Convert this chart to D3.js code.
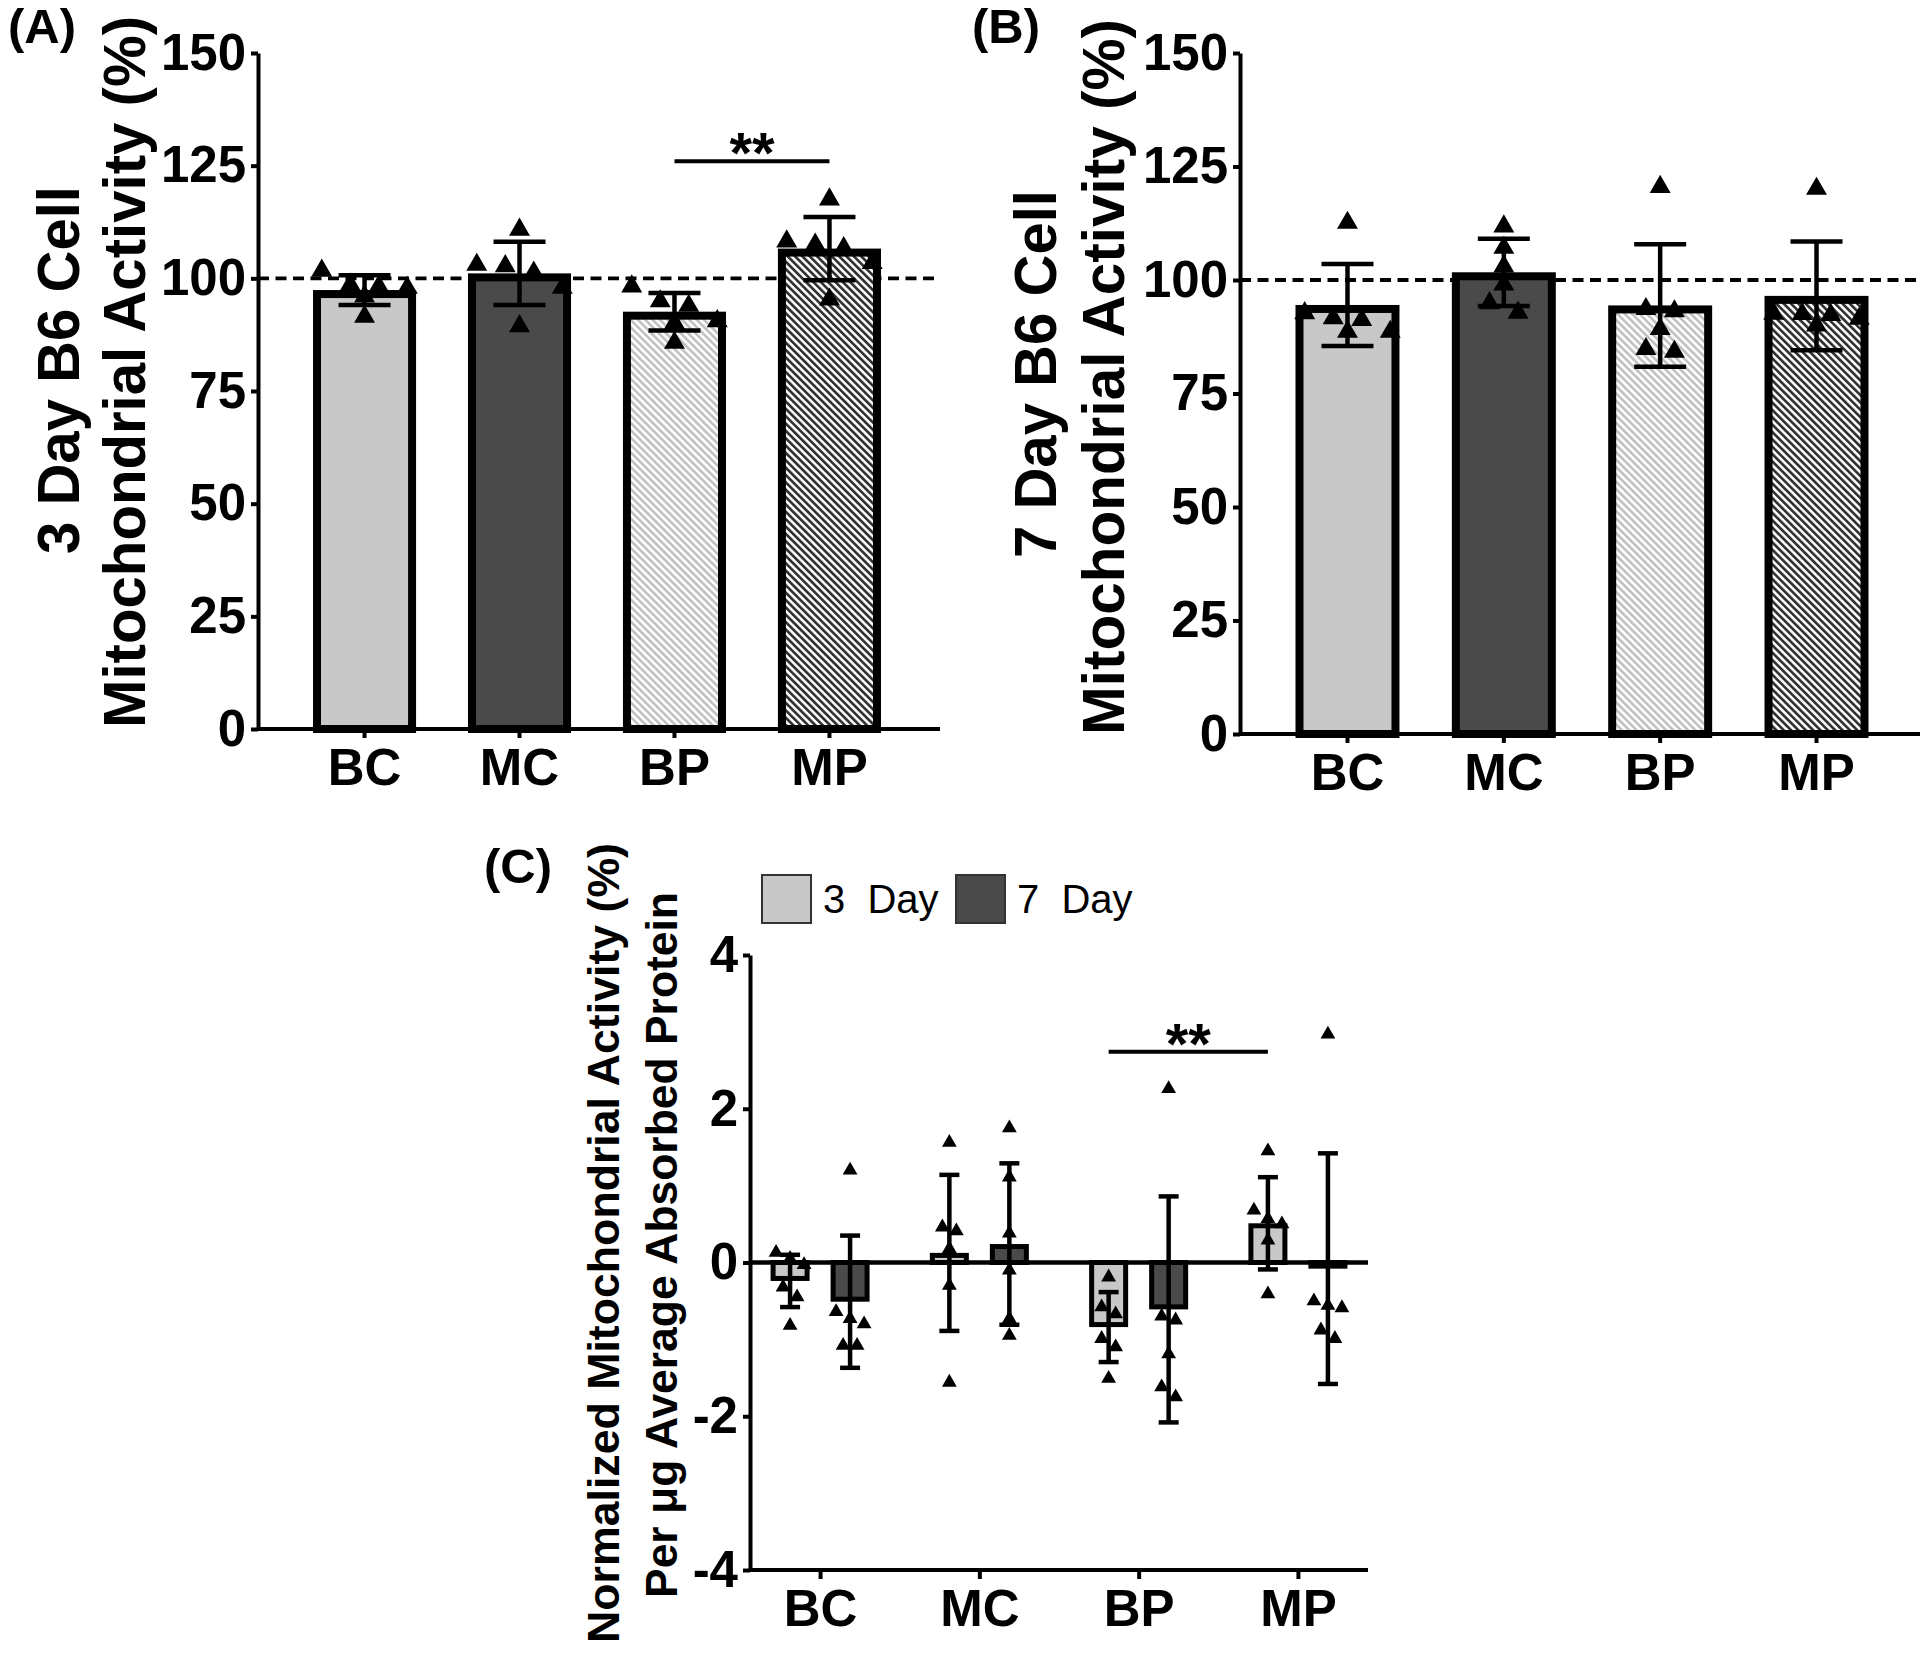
<!DOCTYPE html>
<html><head><meta charset="utf-8">
<script src="https://cdn.jsdelivr.net/npm/d3@7"></script>
<style>
body{margin:0;background:#fff}
svg{display:block;background:#fff}
text{font-family:"Liberation Sans",Arial,Helvetica,sans-serif}
</style>
</head><body>
<svg id="chart" width="1920" height="1654"></svg>
<script>
// ---------------- DATA ----------------
const categories = ["BC", "MC", "BP", "MP"];
const yTicksAB = [0, 25, 50, 75, 100, 125, 150];
const refLine = 100;

// Panel A : 3 day
const meanA = [97.4, 101.1, 92.6, 106.6];
const sdA   = [3.3, 7.0, 4.15, 7.0];
const ptsA = [
  [101.7, 98.6, 97.9, 98.2, 91.5, 96.0],
  [110.8, 103.0, 102.7, 101.3, 97.9, 89.4],
  [98.2, 93.9, 94.9, 90.1, 90.5, 85.7],
  [117.5, 107.5, 108.2, 106.7, 103.4, 95.3]
];
const sigA = {from: "BP", to: "MP", level: 126, label: "**"};

// Panel B : 7 day
const meanB = [94.5, 101.7, 94.4, 96.5];
const sdB   = [9.05, 7.4, 13.5, 12.0];
const ptsB = [
  [112.6, 91.6, 88.6, 92.7, 88.6, 91.2],
  [111.8, 107.1, 103.0, 99.0, 94.9, 92.8],
  [120.5, 93.6, 93.1, 89.2, 84.2, 84.8],
  [120.1, 92.3, 92.5, 91.5, 90.0, 92.6]
];

// Panel C : normalized
const days = ["3  Day", "7  Day"];
const yTicksC = [-4, -2, 0, 2, 4];
const mean3 = [-0.24, 0.125, -0.84, 0.51];
const sd3   = [0.34, 1.015, 0.455, 0.60];
const pts3 = [
  [0.13, 0.05, -0.03, -0.32, -0.45, -0.82],
  [1.56, 0.46, 0.41, 0.18, -0.30, -1.56],
  [-0.19, -0.58, -0.67, -0.99, -1.10, -1.51],
  [1.45, 0.68, 0.57, 0.50, 0.29, -0.41]
];
const mean7 = [-0.51, 0.24, -0.61, -0.08];
const sd7   = [0.86, 1.05, 1.47, 1.50];
const pts7 = [
  [1.20, -0.64, -0.73, -0.80, -1.08, -1.08],
  [1.75, 1.11, 0.38, -0.10, -0.73, -0.95],
  [2.26, -0.70, -0.75, -1.19, -1.62, -1.75],
  [2.97, -0.50, -0.56, -0.59, -0.88, -0.99]
];
const sigC = {from: ["BP", "3  Day"], to: ["MP", "3  Day"], level: 2.74, label: "**"};

// ---------------- STYLE ----------------
const LIGHT = "#c8c8c8", DARK = "#4a4a4a";

const svg = d3.select("#chart");
const defs = svg.append("defs");
function stripe(id, color) {
  const p = defs.append("pattern").attr("id", id)
    .attr("patternUnits", "userSpaceOnUse").attr("width", 5.2).attr("height", 5.2)
    .attr("patternTransform", "rotate(-45)");
  p.append("rect").attr("width", 5.2).attr("height", 5.2).attr("fill", "#fff");
  p.append("rect").attr("width", 2.7).attr("height", 5.2).attr("fill", color);
}
stripe("hatchLight", "#c2c2c2");
stripe("hatchDark", "#333333");
const fillsAB = [LIGHT, DARK, "url(#hatchLight)", "url(#hatchDark)"];

// deterministic swarm (Prism-like rows)
function swarm(vals, yScale, thresh, step, maxRow) {
  const items = vals.map((v, i) => ({v, i, py: yScale(v)})).sort((a, b) => a.py - b.py);
  const clusters = [];
  let cur = null;
  items.forEach(it => {
    if (cur && it.py - cur[cur.length - 1].py < thresh && cur.length < maxRow) cur.push(it);
    else { cur = [it]; clusters.push(cur); }
  });
  clusters.forEach(c => c.forEach((it, k) => it.dx = (k - (c.length - 1) / 2) * step));
  return items;
}

function rotLabel(lines, fontSize) {
  lines.forEach(l => {
    svg.append("text")
      .attr("transform", `translate(${l.bx},${l.cy}) rotate(-90)`)
      .attr("text-anchor", "middle")
      .attr("font-weight", "bold").attr("font-size", fontSize)
      .attr("textLength", l.len).attr("lengthAdjust", "spacingAndGlyphs")
      .text(l.text);
  });
}

// ---------------- PANELS A & B ----------------
function barPanel(cfg) {
  const g = svg.append("g");
  const x = d3.scaleBand().domain(categories).range([cfg.x0, cfg.x1])
    .paddingInner(0.335).paddingOuter(0.355);
  const y = d3.scaleLinear().domain([0, 150]).range([cfg.yBottom, cfg.yTop]);
  const bw = x.bandwidth();
  const sw = 8;

  g.append("line").attr("x1", cfg.x0).attr("x2", cfg.dashEnd)
    .attr("y1", y(refLine)).attr("y2", y(refLine))
    .attr("stroke", "#000").attr("stroke-width", 3.8).attr("stroke-dasharray", "11,6.5");

  g.selectAll("rect.bar").data(categories).join("rect").attr("class", "bar")
    .attr("x", c => x(c) + sw / 2).attr("width", bw - sw)
    .attr("y", (c, i) => y(cfg.mean[i]) + sw / 2)
    .attr("height", (c, i) => y(0) - y(cfg.mean[i]) - sw / 2)
    .attr("fill", (c, i) => fillsAB[i]).attr("stroke", "#000").attr("stroke-width", sw);

  const tri = d3.symbol().type(d3.symbolTriangle).size(190);
  categories.forEach((c, i) => {
    const sp = swarm(cfg.pts[i], y, 17, 28.5, 4);
    g.selectAll(null).data(sp).join("path")
      .attr("d", tri)
      .attr("transform", d => `translate(${x(c) + bw / 2 + d.dx},${d.py})`)
      .attr("fill", "#000");
  });

  categories.forEach((c, i) => {
    const cx = x(c) + bw / 2, m = cfg.mean[i], s = cfg.sd[i];
    g.append("line").attr("x1", cx).attr("x2", cx).attr("y1", y(m + s)).attr("y2", y(m - s))
      .attr("stroke", "#000").attr("stroke-width", 4.5);
    [m + s, m - s].forEach(v => g.append("line").attr("x1", cx - 26).attr("x2", cx + 26)
      .attr("y1", y(v)).attr("y2", y(v)).attr("stroke", "#000").attr("stroke-width", 4.5));
  });

  const ya = g.append("g").attr("transform", `translate(${cfg.x0},0)`)
    .call(d3.axisLeft(y).tickValues(yTicksAB).tickSize(7).tickSizeOuter(0).tickPadding(5).tickFormat(d => String(d)));
  const xa = g.append("g").attr("transform", `translate(0,${y(0)})`)
    .call(d3.axisBottom(x).tickSize(9).tickSizeOuter(0).tickPadding(11));
  [ya, xa].forEach(a => {
    a.select(".domain").attr("stroke-width", 4);
    a.selectAll(".tick line").attr("stroke-width", 4);
    a.selectAll("text").attr("font-size", 51).attr("font-weight", "bold").attr("fill", "#000");
  });
  xa.select(".domain").attr("d", `M${cfg.x0},0H${cfg.axisEnd}`);

  if (cfg.sig) {
    const x1 = x(cfg.sig.from) + bw / 2, x2 = x(cfg.sig.to) + bw / 2, yy = y(cfg.sig.level);
    g.append("line").attr("x1", x1).attr("x2", x2).attr("y1", yy).attr("y2", yy)
      .attr("stroke", "#000").attr("stroke-width", 4);
    g.append("text").attr("x", (x1 + x2) / 2).attr("y", yy + 12).attr("text-anchor", "middle")
      .attr("font-size", 58).attr("font-weight", "bold").text(cfg.sig.label);
  }

  svg.append("text").attr("x", cfg.letterX).attr("y", 43).attr("font-size", 49)
    .attr("font-weight", "bold").text(cfg.letter);
}

barPanel({x0: 258, x1: 936, axisEnd: 940, dashEnd: 940, yBottom: 729, yTop: 53,
  mean: meanA, sd: sdA, pts: ptsA, sig: sigA, letter: "(A)", letterX: 8});
barPanel({x0: 1240, x1: 1924, axisEnd: 1920, dashEnd: 1920, yBottom: 734, yTop: 53,
  mean: meanB, sd: sdB, pts: ptsB, sig: null, letter: "(B)", letterX: 972});

rotLabel([
  {text: "3 Day B6 Cell", bx: 79, cy: 370, len: 368},
  {text: "Mitochondrial Activity (%)", bx: 145, cy: 372, len: 712}
], 59);
rotLabel([
  {text: "7 Day B6 Cell", bx: 1056, cy: 374, len: 368},
  {text: "Mitochondrial Activity (%)", bx: 1124, cy: 377, len: 716}
], 59);

// ---------------- PANEL C ----------------
(function () {
  const g = svg.append("g");
  const X0 = 750, X1 = 1368;
  const x = d3.scalePoint().domain(categories).range([X0, X1]).padding(0.44);
  const xd = d3.scaleBand().domain(days).range([-49.5, 49.5]).paddingInner(0.35);
  const y = d3.scaleLinear().domain([-4, 4]).range([1570, 955]);
  const bw = xd.bandwidth();
  const sw = 5;
  const series = [
    {mean: mean3, sd: sd3, pts: pts3, fill: LIGHT, day: days[0]},
    {mean: mean7, sd: sd7, pts: pts7, fill: DARK, day: days[1]}
  ];

  series.forEach(s => {
    categories.forEach((c, i) => {
      const m = s.mean[i];
      const left = x(c) + xd(s.day);
      const yTop = m >= 0 ? y(m) + sw / 2 : y(0);
      const yBot = m >= 0 ? y(0) : y(m) - sw / 2;
      g.append("rect").attr("x", left + sw / 2).attr("width", bw - sw)
        .attr("y", yTop).attr("height", Math.max(0, yBot - yTop))
        .attr("fill", s.fill).attr("stroke", "#000").attr("stroke-width", sw);
    });
  });

  g.append("line").attr("x1", X0).attr("x2", X1).attr("y1", y(0)).attr("y2", y(0))
    .attr("stroke", "#000").attr("stroke-width", 4.5);

  const tri = d3.symbol().type(d3.symbolTriangle).size(95);
  series.forEach(s => {
    categories.forEach((c, i) => {
      const cx = x(c) + xd(s.day) + bw / 2;
      const sp = swarm(s.pts[i], y, 12, 14, 3);
      g.selectAll(null).data(sp).join("path").attr("d", tri)
        .attr("transform", d => `translate(${cx + d.dx},${d.py})`).attr("fill", "#000");
      const m = s.mean[i], e = s.sd[i];
      g.append("line").attr("x1", cx).attr("x2", cx).attr("y1", y(m + e)).attr("y2", y(m - e))
        .attr("stroke", "#000").attr("stroke-width", 4.5);
      [m + e, m - e].forEach(v => g.append("line").attr("x1", cx - 10).attr("x2", cx + 10)
        .attr("y1", y(v)).attr("y2", y(v)).attr("stroke", "#000").attr("stroke-width", 4.5));
    });
  });

  const ya = g.append("g").attr("transform", `translate(${X0},0)`)
    .call(d3.axisLeft(y).tickValues(yTicksC).tickSize(7).tickSizeOuter(0).tickPadding(5).tickFormat(d => String(d)));
  const xa = g.append("g").attr("transform", `translate(0,${y(-4)})`)
    .call(d3.axisBottom(x).tickSize(9).tickSizeOuter(0).tickPadding(11));
  [ya, xa].forEach(a => {
    a.select(".domain").attr("stroke-width", 4);
    a.selectAll(".tick line").attr("stroke-width", 4);
    a.selectAll("text").attr("font-size", 51).attr("font-weight", "bold").attr("fill", "#000");
  });
  xa.select(".domain").attr("d", `M${X0},0H${X1}`);

  const sx1 = x(sigC.from[0]) + xd(sigC.from[1]) + bw / 2;
  const sx2 = x(sigC.to[0]) + xd(sigC.to[1]) + bw / 2;
  const sy = y(sigC.level);
  g.append("line").attr("x1", sx1).attr("x2", sx2).attr("y1", sy).attr("y2", sy)
    .attr("stroke", "#000").attr("stroke-width", 4);
  g.append("text").attr("x", (sx1 + sx2) / 2).attr("y", sy + 12).attr("text-anchor", "middle")
    .attr("font-size", 58).attr("font-weight", "bold").text(sigC.label);

  const leg = g.append("g");
  const legX = [762, 956];
  series.forEach((s, k) => {
    leg.append("rect").attr("x", legX[k]).attr("y", 875).attr("width", 49).attr("height", 48)
      .attr("fill", s.fill).attr("stroke", "#333").attr("stroke-width", 2);
    leg.append("text").attr("x", legX[k] + 61).attr("y", 913).attr("font-size", 40)
      .attr("xml:space", "preserve").style("white-space", "pre").text(s.day);
  });

  svg.append("text").attr("x", 484).attr("y", 883).attr("font-size", 49)
    .attr("font-weight", "bold").text("(C)");
  rotLabel([
    {text: "Normalized Mitochondrial Activity (%)", bx: 619, cy: 1243, len: 800},
    {text: "Per \u03bcg Average Absorbed Protein", bx: 677, cy: 1245, len: 706}
  ], 45);
})();
</script>
</body></html>
